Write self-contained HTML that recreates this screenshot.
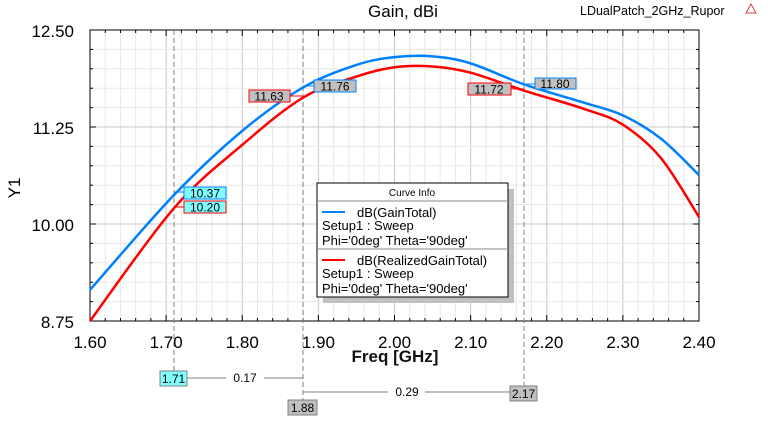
<!DOCTYPE html>
<html><head><meta charset="utf-8"><style>
body{margin:0;background:#fff;width:768px;height:420px;overflow:hidden}
text{font-family:"Liberation Sans",Arial,sans-serif}
</style></head><body>
<svg id="s" width="768" height="420" xmlns="http://www.w3.org/2000/svg">
<g id="grid"></g>
<rect x="90" y="30" width="609" height="291" fill="none" stroke="#000" stroke-width="1"/>
<g id="ticks" stroke="#000"></g>
<g stroke="#808080" stroke-dasharray="5,3" stroke-width="1">
<line x1="174" y1="30" x2="174" y2="371"/>
<line x1="303" y1="30" x2="303" y2="400"/>
<line x1="524" y1="30" x2="524" y2="386"/>
</g>
<path id="blue" fill="none" stroke="#0080ff" stroke-width="2.5"/>
<path id="red" fill="none" stroke="#ff0000" stroke-width="2.5"/>
<g font-size="12">
<rect x="184" y="187" width="42" height="12" fill="#80ffff" stroke="#0080ff"/><text x="205" y="197.5" text-anchor="middle">10.37</text>
<rect x="184" y="201" width="42" height="12" fill="#80ffff" stroke="#ff0000"/><text x="205" y="211.5" text-anchor="middle">10.20</text>
<rect x="314" y="80" width="42" height="12" fill="#c0c0c0" stroke="#0080ff"/><text x="335" y="90.5" text-anchor="middle">11.76</text>
<rect x="249" y="90" width="41" height="12" fill="#c0c0c0" stroke="#ff0000"/><text x="269" y="100.5" text-anchor="middle">11.63</text>
<rect x="535" y="78" width="41" height="11" fill="#c0c0c0" stroke="#0080ff"/><text x="555" y="88" text-anchor="middle">11.80</text>
<rect x="468" y="83" width="43" height="12" fill="#c0c0c0" stroke="#ff0000"/><text x="489" y="93.5" text-anchor="middle">11.72</text>
</g>
<g stroke-width="1">
<line x1="174" y1="192" x2="184" y2="192" stroke="#0080ff"/>
<line x1="174" y1="207" x2="184" y2="207" stroke="#ff0000"/>
<line x1="303" y1="86" x2="314" y2="86" stroke="#0080ff"/>
<line x1="290" y1="96" x2="303" y2="96" stroke="#ff0000"/>
<line x1="524" y1="84" x2="535" y2="84" stroke="#0080ff"/>
<line x1="511" y1="89" x2="524" y2="89" stroke="#ff0000"/>
</g>
<rect x="323" y="189" width="191" height="114" fill="#c0c0c0"/>
<rect x="317" y="183" width="191" height="114" fill="#fff" stroke="#000"/>
<line x1="317" y1="201" x2="508" y2="201" stroke="#888"/>
<line x1="317" y1="249" x2="508" y2="249" stroke="#888"/>
<text x="412" y="196" font-size="10" text-anchor="middle">Curve Info</text>
<line x1="322" y1="212" x2="345" y2="212" stroke="#0080ff" stroke-width="2"/>
<line x1="322" y1="260" x2="345" y2="260" stroke="#ff0000" stroke-width="2"/>
<g font-size="13">
<text x="357" y="217">dB(GainTotal)</text>
<text x="322" y="230">Setup1 : Sweep</text>
<text x="322" y="245">Phi='0deg' Theta='90deg'</text>
<text x="357" y="265">dB(RealizedGainTotal)</text>
<text x="322" y="278">Setup1 : Sweep</text>
<text x="322" y="293">Phi='0deg' Theta='90deg'</text>
</g>
<g font-size="17" text-anchor="end">
<text x="74" y="37">12.50</text>
<text x="74" y="134">11.25</text>
<text x="74" y="231">10.00</text>
<text x="74" y="328">8.75</text>
</g>
<g font-size="17" text-anchor="middle" id="xl"></g>
<text x="395" y="362" font-size="17" text-anchor="middle" font-weight="bold" fill="#111">Freq [GHz]</text>
<text x="403" y="17" font-size="17" text-anchor="middle">Gain, dBi</text>
<text x="580" y="15" font-size="12.5">LDualPatch_2GHz_Rupor</text>
<path d="M751 4 L746 13 L756 13 Z" fill="none" stroke="#d04040"/>
<text transform="translate(20,188) rotate(-90)" font-size="17" text-anchor="middle">Y1</text>
<g stroke="#808080">
<line x1="187" y1="378" x2="226" y2="378"/><line x1="264" y1="378" x2="303" y2="378"/>
<line x1="303" y1="392" x2="388" y2="392"/><line x1="425" y1="392" x2="510" y2="392"/>
</g>
<g font-size="12">
<rect x="160" y="371" width="27" height="15" fill="#80ffff" stroke="#808080"/><text x="173.5" y="383" text-anchor="middle">1.71</text>
<text x="245" y="382" text-anchor="middle">0.17</text>
<rect x="288" y="400" width="29" height="15" fill="#c0c0c0" stroke="#808080"/><text x="302.5" y="412" text-anchor="middle">1.88</text>
<text x="407" y="396" text-anchor="middle">0.29</text>
<rect x="510" y="386" width="27" height="15" fill="#c0c0c0" stroke="#808080"/><text x="523.5" y="398" text-anchor="middle">2.17</text>
</g>
</svg>
<script>
var NS="http://www.w3.org/2000/svg";
function X(f){return 90+(f-1.6)/0.8*609;}
function Y(v){return 30+(12.5-v)*77.6;}
var g=document.getElementById('grid'),t=document.getElementById('ticks'),xl=document.getElementById('xl');
function ln(p,x1,y1,x2,y2,c){var l=document.createElementNS(NS,'line');l.setAttribute('x1',x1);l.setAttribute('y1',y1);l.setAttribute('x2',x2);l.setAttribute('y2',y2);if(c)l.setAttribute('stroke',c);p.appendChild(l);}
for(var i=0;i<=40;i++){var x=90+i*609/40;ln(g,x,30,x,321,i%5==0?'#c8c8c8':'#e8e8e8');
 ln(t,x,321,x,i%5==0?315:318);ln(t,x,30,x,i%5==0?36:33);}
for(var j=0;j<=15;j++){var y=30+j*291/15;ln(g,90,y,699,y,j%5==0?'#c8c8c8':'#e8e8e8');
 ln(t,90,y,j%5==0?96:93,y);ln(t,699,y,j%5==0?693:696,y);}
for(var k=0;k<=8;k++){var tx=document.createElementNS(NS,'text');tx.setAttribute('x',X(1.6+k*0.1));tx.setAttribute('y',348);tx.textContent=(1.6+k*0.1).toFixed(2);xl.appendChild(tx);}
function path(pts){var P=pts.map(function(p){return[X(p[0]),Y(p[1])];});var d='M'+P[0][0]+' '+P[0][1];
for(var i=0;i<P.length-1;i++){var p0=P[i-1]||P[i],p1=P[i],p2=P[i+1],p3=P[i+2]||P[i+1];
d+=' C'+(p1[0]+(p2[0]-p0[0])/6)+' '+(p1[1]+(p2[1]-p0[1])/6)+' '+(p2[0]-(p3[0]-p1[0])/6)+' '+(p2[1]-(p3[1]-p1[1])/6)+' '+p2[0]+' '+p2[1];}return d;}
document.getElementById('blue').setAttribute('d',path([[1.6,9.15],[1.71,10.37],[1.8,11.2],[1.88,11.76],[1.95,12.05],[2.0,12.15],[2.05,12.16],[2.1,12.07],[2.17,11.80],[2.25,11.56],[2.3,11.40],[2.35,11.1],[2.4,10.63]]));
document.getElementById('red').setAttribute('d',path([[1.6,8.75],[1.71,10.20],[1.8,11.02],[1.88,11.63],[1.95,11.90],[2.0,12.02],[2.05,12.03],[2.1,11.95],[2.17,11.72],[2.25,11.48],[2.3,11.28],[2.35,10.85],[2.4,10.09]]));
</script>
</body></html>
